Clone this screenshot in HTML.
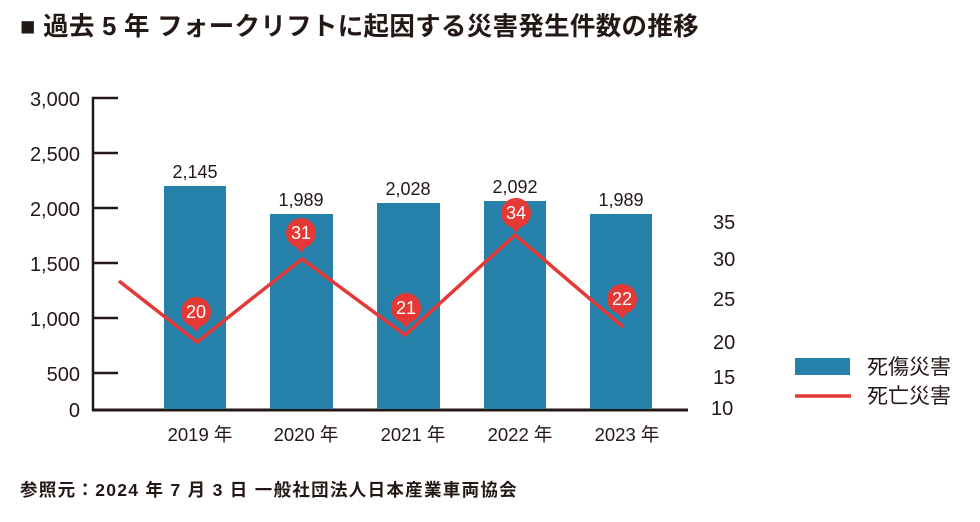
<!DOCTYPE html>
<html><head><meta charset="utf-8"><style>
body{margin:0;background:#fff;width:980px;height:517px;overflow:hidden;font-family:"Liberation Sans","Noto Sans CJK JP",sans-serif;}
</style></head><body>
<svg width="980" height="517" xmlns="http://www.w3.org/2000/svg" font-family="Liberation Sans, Noto Sans CJK JP, sans-serif">
<text x="20" y="35" font-size="25.5" font-weight="bold" fill="#231815" letter-spacing="0.3">■ 過去 5 年 フォークリフトに起因する災害発生件数の推移</text>
<g fill="#231815" font-size="20" text-anchor="end">
<text x="80" y="106">3,000</text><text x="80" y="161">2,500</text><text x="80" y="216">2,000</text>
<text x="80" y="271">1,500</text><text x="80" y="326">1,000</text><text x="80" y="381">500</text><text x="80" y="417">0</text>
</g>
<g stroke="#231815" stroke-width="2.5">
<line x1="93" y1="97" x2="93" y2="411"/>
<line x1="92" y1="98" x2="118" y2="98"/><line x1="92" y1="153" x2="118" y2="153"/><line x1="92" y1="208" x2="118" y2="208"/>
<line x1="92" y1="263" x2="118" y2="263"/><line x1="92" y1="318" x2="118" y2="318"/><line x1="92" y1="373" x2="118" y2="373"/>
<line x1="92" y1="410" x2="688" y2="410" stroke-width="3"/>
</g>
<g fill="#2580aa">
<rect x="164" y="186" width="62" height="223"/><rect x="270" y="214" width="63" height="195"/>
<rect x="377" y="203" width="63" height="206"/><rect x="484" y="201" width="62" height="208"/>
<rect x="590" y="214" width="62" height="195"/>
</g>
<g fill="#231815" font-size="18" text-anchor="middle">
<text x="195" y="178">2,145</text><text x="301" y="206">1,989</text><text x="408" y="195">2,028</text>
<text x="515" y="193">2,092</text><text x="621" y="206">1,989</text>
</g>
<polyline points="119,281 197,342 302,259 405,335 515,235 623,327" fill="none" stroke="#e53935" stroke-width="3.5"/>
<g fill="#e53935">
<circle cx="196" cy="312" r="15"/><path d="M190 324 L196 332 L202 324Z"/>
<circle cx="301" cy="233" r="15"/><path d="M295 245 L301 253 L307 245Z"/>
<circle cx="406" cy="308" r="15"/><path d="M400 320 L406 328 L412 320Z"/>
<circle cx="516" cy="213" r="15"/><path d="M510 225 L516 233 L522 225Z"/>
<circle cx="622" cy="299" r="15"/><path d="M616 311 L622 319 L628 311Z"/>
</g>
<g fill="#fff" font-size="18" text-anchor="middle">
<text x="196" y="318">20</text><text x="301" y="239">31</text><text x="406" y="314">21</text>
<text x="516" y="219">34</text><text x="622" y="305">22</text>
</g>
<g fill="#231815" font-size="18.5" text-anchor="middle">
<text x="200" y="441">2019 年</text><text x="306" y="441">2020 年</text><text x="413" y="441">2021 年</text>
<text x="520" y="441">2022 年</text><text x="627" y="441">2023 年</text>
</g>
<g fill="#231815" font-size="20">
<text x="713" y="229">35</text><text x="713" y="266">30</text><text x="713" y="306">25</text>
<text x="713" y="349">20</text><text x="713" y="384">15</text><text x="711" y="415">10</text>
</g>
<rect x="795" y="358" width="55" height="17" fill="#2580aa"/>
<line x1="795" y1="396" x2="851" y2="396" stroke="#e53935" stroke-width="3.5"/>
<g fill="#231815" font-size="21"><text x="867" y="374">死傷災害</text><text x="867" y="403">死亡災害</text></g>
<text x="20" y="496" font-size="17.5" font-weight="bold" fill="#231815" letter-spacing="1.3">参照元：2024 年 7 月 3 日 一般社団法人日本産業車両協会</text>
</svg>
</body></html>
